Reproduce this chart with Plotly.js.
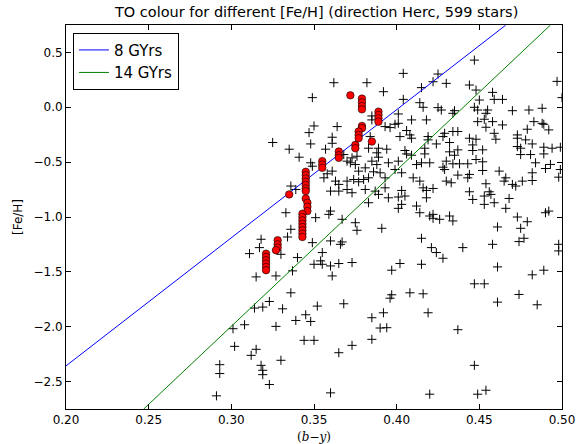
<!DOCTYPE html>
<html>
<head>
<meta charset="utf-8">
<script src="https://cdn.plot.ly/plotly-3.0.1.min.js"></script>
<style>
  html, body { margin: 0; padding: 0; background: #ffffff; }
  #chart { width: 581px; height: 444px; }
</style>
</head>
<body>
<div id="chart"></div>
<script>
// Turn-off colour (b-y) against metallicity [Fe/H] for the Herc field sample.

// All stars in the field: (b-y) colour and [Fe/H]
const starColour = [
  0.362, 0.382, 0.392, 0.349, 0.350, 0.364, 0.347, 0.361, 0.348, 0.325, 0.335, 0.361, 0.357, 0.385, 0.385, 0.384, 0.383, 0.389, 0.394, 0.393, 0.396, 0.399,
  0.341, 0.348, 0.349, 0.370, 0.372, 0.375, 0.373, 0.376, 0.368, 0.388, 0.389, 0.385, 0.388, 0.395, 0.377, 0.381, 0.386, 0.390, 0.393, 0.399,
  0.356, 0.358, 0.361, 0.363, 0.365, 0.370, 0.374, 0.377, 0.380, 0.383, 0.360, 0.365, 0.370, 0.373, 0.381, 0.387, 0.393, 0.336, 0.339,
  0.333, 0.351, 0.360, 0.359, 0.367, 0.375, 0.376, 0.383, 0.389, 0.395, 0.391, 0.336, 0.334, 0.318, 0.317, 0.311, 0.330, 0.340,
  0.349, 0.355, 0.360, 0.366, 0.367, 0.373, 0.350, 0.354, 0.355, 0.360, 0.365, 0.337, 0.327, 0.315, 0.361, 0.397,
  0.447, 0.404, 0.425, 0.422, 0.430, 0.415, 0.444, 0.448, 0.458, 0.450, 0.459, 0.464, 0.497, 0.500, 0.404, 0.414, 0.416, 0.401,
  0.425, 0.427, 0.435, 0.434, 0.447, 0.449, 0.455, 0.454, 0.453, 0.458, 0.464, 0.449, 0.454, 0.470, 0.480, 0.488, 0.483, 0.488,
  0.489, 0.492, 0.479, 0.409, 0.418, 0.401, 0.406, 0.408, 0.409, 0.402, 0.419, 0.419, 0.429, 0.434, 0.437, 0.428, 0.432, 0.424,
  0.437, 0.444, 0.448, 0.446, 0.459, 0.460, 0.473, 0.473, 0.478, 0.482, 0.489, 0.473, 0.475, 0.494, 0.499, 0.405, 0.417, 0.452,
  0.406, 0.401, 0.409, 0.412, 0.415, 0.417, 0.420, 0.432, 0.435, 0.446, 0.430, 0.428, 0.429, 0.434, 0.438, 0.443, 0.437, 0.444,
  0.443, 0.448, 0.452, 0.452, 0.462, 0.466, 0.465, 0.454, 0.470, 0.472, 0.476, 0.482, 0.482, 0.475, 0.481, 0.484, 0.490, 0.493,
  0.489, 0.499, 0.498, 0.410, 0.414, 0.416, 0.418, 0.418, 0.422, 0.403, 0.401, 0.405, 0.403, 0.401, 0.430, 0.433, 0.444, 0.446,
  0.453, 0.456, 0.457, 0.459, 0.453, 0.468, 0.466, 0.412, 0.414, 0.420, 0.422, 0.422, 0.426, 0.432, 0.434, 0.473, 0.475, 0.479,
  0.490, 0.492, 0.461, 0.415, 0.440, 0.421, 0.424, 0.428, 0.458, 0.474, 0.477, 0.498, 0.498, 0.402, 0.415, 0.461, 0.482, 0.489,
  0.403, 0.336, 0.314, 0.319, 0.323, 0.331, 0.352, 0.368, 0.396, 0.397, 0.308, 0.301, 0.327, 0.339, 0.345, 0.348, 0.385,
  0.392, 0.390, 0.394, 0.385, 0.373, 0.365, 0.344, 0.350, 0.302, 0.315, 0.312, 0.330, 0.318, 0.319, 0.319, 0.323, 0.360,
  0.408, 0.416, 0.447, 0.453, 0.461, 0.474, 0.485, 0.419, 0.437, 0.447, 0.420, 0.449, 0.454,
  0.293, 0.293, 0.291
];
const starFeH = [
  0.224, 0.224, 0.142, 0.088, -0.170, -0.176, -0.231, -0.273, -0.334, -0.321, -0.382, -0.328, -0.382, -0.079, -0.115, -0.267, -0.373, -0.373, -0.382, -0.176, -0.185, -0.155,
  -0.455, -0.506, -0.537, -0.491, -0.506, -0.522, -0.461, -0.446, -0.431, -0.415, -0.455, -0.491, -0.522, -0.506, -0.582, -0.552, -0.588, -0.597, -0.643, -0.567,
  -0.643, -0.606, -0.582, -0.673, -0.703, -0.673, -0.658, -0.679, -0.658, -0.643, -0.764, -0.764, -0.749, -0.779, -0.749, -0.764, -0.734, -0.718, -0.749,
  -0.961, -1.006, -0.946, -0.976, -1.021, -1.052, -1.121, -0.870, -0.794, -0.825, -1.103, -1.112, -1.182, -1.203, -1.279, -1.334, -1.340, -1.370,
  -1.234, -1.324, -1.218, -1.249, -1.227, -1.415, -1.431, -1.400, -1.431, -1.446, -1.424, -1.491, -1.537, -1.546, -1.537, -1.485,
  0.430, 0.309, 0.303, 0.233, 0.218, 0.179, 0.203, 0.157, 0.136, 0.066, 0.072, 0.072, 0.236, 0.088, 0.072, 0.042, 0.000, -0.061,
  -0.003, -0.025, -0.031, -0.055, 0.000, -0.025, -0.025, -0.055, -0.109, -0.131, -0.161, -0.131, -0.182, -0.031, -0.025, -0.009, -0.131, -0.146,
  -0.155, -0.206, -0.200, -0.115, -0.115, -0.146, -0.212, -0.252, -0.282, -0.267, -0.267, -0.297, -0.237, -0.221, -0.221, -0.267, -0.321, -0.334,
  -0.388, -0.282, -0.291, -0.343, -0.237, -0.291, -0.252, -0.282, -0.297, -0.334, -0.364, -0.358, -0.373, -0.373, -0.364, -0.394, -0.373, -0.388,
  -0.425, -0.491, -0.437, -0.522, -0.506, -0.425, -0.506, -0.406, -0.437, -0.394, -0.491, -0.546, -0.567, -0.515, -0.515, -0.515, -0.618, -0.612,
  -0.643, -0.476, -0.497, -0.576, -0.582, -0.643, -0.673, -0.697, -0.703, -0.718, -0.673, -0.597, -0.667, -0.431, -0.431, -0.506, -0.558, -0.521,
  -0.425, -0.567, -0.637, -0.643, -0.673, -0.734, -0.758, -0.825, -0.740, -0.758, -0.818, -0.809, -0.885, -0.921, -0.673, -0.688, -0.770, -0.840,
  -0.809, -0.770, -0.794, -0.870, -0.885, -0.831, -0.921, -0.900, -0.961, -0.991, -0.976, -1.012, -1.021, -0.991, -1.036, -1.000, -1.103, -1.043,
  -0.961, -0.946, -1.091, -1.194, -1.279, -1.279, -1.324, -1.376, -1.249, -1.224, -1.194, -1.249, -1.309, -1.424, -1.431, -1.455, -1.527, -1.485,
  -0.597, -1.691, -1.830, -1.821, -1.770, -1.837, -1.812, -1.791, -1.740, -1.709, -1.982, -2.018, -1.997, -1.943, -1.891, -1.952, -1.918,
  -1.873, -2.012, -2.009, -2.115, -2.170, -2.237, -2.124, -2.124, -2.179, -2.206, -2.261, -2.306, -2.352, -2.397, -2.437, -2.527, -2.603,
  -1.691, -1.700, -1.609, -1.609, -1.776, -1.706, -1.800, -1.873, -2.027, -2.352, -2.615, -2.615, -2.579,
  -2.346, -2.427, -2.630
];

// Stars picked out as turn-off stars
const turnoffColour = [
  0.372, 0.379, 0.379, 0.379, 0.379, 0.389, 0.389, 0.389, 0.389, 0.379, 0.379, 0.377, 0.377, 0.377, 0.375, 0.375, 0.385, 0.365,
  0.365, 0.365, 0.355, 0.355, 0.355, 0.345, 0.345, 0.345, 0.345, 0.345, 0.345, 0.345, 0.335, 0.345, 0.346, 0.346, 0.346,
  0.343, 0.343, 0.343, 0.343, 0.343, 0.343, 0.343, 0.343, 0.328, 0.328, 0.328, 0.327, 0.321, 0.321, 0.321, 0.321, 0.321, 0.321
];
const turnoffFeH = [
  0.109, 0.079, 0.045, 0.012, -0.019, -0.040, -0.070, -0.100, -0.131, -0.170, -0.191, -0.221, -0.252, -0.282, -0.343, -0.373, -0.312, -0.403,
  -0.437, -0.461, -0.491, -0.522, -0.552, -0.588, -0.618, -0.649, -0.679, -0.709, -0.740, -0.764, -0.794, -0.831, -0.870, -0.906, -0.946,
  -0.970, -1.000, -1.031, -1.061, -1.091, -1.121, -1.152, -1.182, -1.212, -1.249, -1.279, -1.303, -1.334, -1.364, -1.394, -1.424, -1.455, -1.485
];

// Turn-off colour relations for two ages
const iso8Colour = [0.200, 0.4659];
const iso8FeH = [-2.357, 0.748];
const iso14Colour = [0.247, 0.4929];
const iso14FeH = [-2.75, 0.748];

const xTicks = [0.20, 0.25, 0.30, 0.35, 0.40, 0.45, 0.50];
const yTicks = [-2.5, -2.0, -1.5, -1.0, -0.5, 0.0, 0.5];

const font = 'DejaVu Sans, sans-serif';

const traces = [
  {
    x: starColour, y: starFeH, type: 'scatter', mode: 'markers', showlegend: false,
    marker: { symbol: 'cross-thin', size: 6.5, color: '#000000', line: { color: '#000000', width: 1 } },
    hoverinfo: 'x+y'
  },
  {
    x: iso8Colour, y: iso8FeH, type: 'scatter', mode: 'lines', name: '8 GYrs',
    line: { color: '#0000ff', width: 1 }
  },
  {
    x: iso14Colour, y: iso14FeH, type: 'scatter', mode: 'lines', name: '14 GYrs',
    line: { color: '#008000', width: 1 }
  },
  {
    x: turnoffColour, y: turnoffFeH, type: 'scatter', mode: 'markers', showlegend: false,
    marker: { symbol: 'circle', size: 7.5, color: '#ff0000', line: { color: '#000000', width: 0.6 } },
    hoverinfo: 'x+y'
  }
];

const axisCommon = {
  showline: true, linecolor: '#000000', linewidth: 1, mirror: 'allticks',
  ticks: 'inside', ticklen: 5, tickwidth: 1, tickcolor: '#000000',
  showgrid: false, zeroline: false,
  tickfont: { family: font, size: 12, color: '#000000' }
};

const layout = {
  width: 581, height: 444,
  margin: { l: 66, r: 19, t: 25, b: 35 },
  paper_bgcolor: '#ffffff', plot_bgcolor: '#ffffff',
  title: {
    text: 'TO colour for different [Fe/H] (direction Herc, 599 stars)',
    font: { family: font, size: 14.5, color: '#000000' },
    xref: 'container', x: 0.545, xanchor: 'center',
    yref: 'container', y: 0.973, yanchor: 'middle'
  },
  xaxis: Object.assign({}, axisCommon, {
    range: [0.2, 0.5], tickvals: xTicks, tickformat: '.2f',
    title: { text: '(<i>b</i>\u2212<i>y</i>)', font: { family: 'DejaVu Serif, serif', size: 12, color: '#000000' }, standoff: 7 }
  }),
  yaxis: Object.assign({}, axisCommon, {
    range: [-2.75, 0.75], tickvals: yTicks, tickformat: '.1f',
    title: { text: '[Fe/H]', font: { family: font, size: 12, color: '#000000' }, standoff: 8 }
  }),
  legend: {
    x: 0.014, y: 0.98, xanchor: 'left', yanchor: 'top',
    bgcolor: '#ffffff', bordercolor: '#000000', borderwidth: 1,
    font: { family: font, size: 15, color: '#000000' },
    tracegroupgap: 0
  },
  showlegend: true
};

Plotly.newPlot('chart', traces, layout, { displayModeBar: false, staticPlot: true });
</script>
</body>
</html>
